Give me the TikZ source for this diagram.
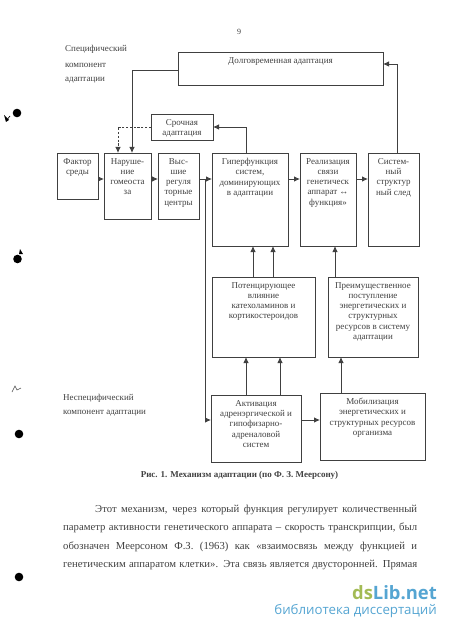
\documentclass[tikz,border=0pt]{standalone}
\usepackage{fontspec}
\setmainfont{Liberation Serif}
\newfontfamily\wmfont{Open Sans}
\usetikzlibrary{arrows.meta,calc}
\definecolor{ink}{gray}{0.25}
\definecolor{wmgreen}{HTML}{A3BB55}
\definecolor{wmblue}{HTML}{55A5D2}
\tikzset{
  box/.style={draw=ink,line width=0.8pt,inner sep=0pt,outer sep=0pt,text=ink,rectangle},
  arr/.style={draw=ink,line width=0.8pt,-{Latex[length=6pt,width=5.5pt]}},
  dasharr/.style={arr,dashed,dash pattern=on 2.2pt off 1.6pt},
  note/.style={text=ink,font=\fontsize{9}{10}\selectfont,anchor=west,inner sep=0pt},
  spot/.style={circle,fill=black,minimum size=8.6pt,inner sep=0pt},
}
% name, x1, y1, x2, y2, text
\newcommand{\bx}[6]{%
  \pgfmathsetmacro{\bw}{#4-#2}\pgfmathsetmacro{\bh}{#5-#3}%
  \node[box,minimum width=\bw pt,minimum height=\bh pt] (#1) at ({(#2+#4)/2},{(#3+#5)/2})
  {\parbox[c][\bh pt][t]{\bw pt}{\centering\fontsize{9}{10.3}\selectfont\vspace*{5.2pt}#6\par}};}
\begin{document}
\begin{tikzpicture}[x=1pt,y=-1pt]
\useasboundingbox (0,0) rectangle (450,631);
\node[text=ink,font=\fontsize{8}{8}\selectfont,inner sep=0pt] (pg) at (239,32) {9};
% side labels
\node[note] (l1) at (65,49) {Специфический};
\node[note] (l2) at (65,65) {компонент};
\node[note] (l3) at (65,80) {адаптации};
\node[note] (l4) at (63,398) {Неспецифический};
\node[note] (l5) at (63,413) {компонент адаптации};
% boxes
\bx{long}{178}{52}{383}{85}{Долговременная адаптация}
\bx{sr}{151}{114}{213}{140}{Срочная\\адаптация}
\bx{fac}{57}{153}{98}{199}{Фактор\\среды}
\bx{nar}{104}{153}{151}{219}{Наруше-\\ние\\гомеоста\\за}
\bx{vys}{158}{153}{199}{219}{Выс-\\шие\\регуля\\торные\\центры}
\bx{hyp}{212}{153}{288}{246}{Гиперфункция\\систем,\\доминирующих\\в адаптации}
\bx{rea}{300}{153}{356}{246}{Реализация\\связи\\генетическ\\аппарат ↔\\функция»}
\bx{sys}{368}{153}{419}{246}{Систем-\\ный\\структур\\ный след}
\bx{pot}{212}{277}{315}{357}{Потенцирующее\\влияние\\катехоламинов и\\кортикостероидов}
\bx{pre}{328}{277}{418}{357}{Преимущественное\\поступление\\энергетических и\\структурных\\ресурсов в систему\\адаптации}
\bx{act}{211}{395}{301}{462}{Активация\\адренэргической и\\гипофизарно-\\адреналовой\\систем}
\bx{mob}{320}{393}{425}{460}{Мобилизация\\энергетических и\\структурных ресурсов\\организма}
% helper coordinates
\coordinate (row) at (0,179);
\coordinate (row2) at (0,420);
\coordinate (bus) at (205,179);
% connectors
\draw[arr] (fac.east |- row) -- (nar.west |- row);
\draw[arr] (nar.east |- row) -- (vys.west |- row);
\draw[arr] (vys.east |- row) -- (hyp.west |- row);
\draw[arr] (hyp.east |- row) -- (rea.west |- row);
\draw[arr] (rea.east |- row) -- (sys.west |- row);
\draw[arr] (bus) |- (act.west |- row2);
\draw[arr] (act.east |- row2) -- (mob.west |- row2);
\draw[arr] ([xshift=3.5pt]sys.north) |- ([yshift=4.5pt]long.east);
\draw[arr] ([yshift=-1.5pt]long.west) -| ([xshift=4.5pt]nar.north);
\draw[dasharr] (sr.west) -| ([xshift=-9.5pt]nar.north);
\draw[arr] ([xshift=-4pt]hyp.north) |- (sr.east);
\draw[arr] ([xshift=-10.5pt]pot.north) -- ([xshift=3pt]hyp.south);
\draw[arr] ([xshift=9.5pt]pot.north) -- ([xshift=23pt]hyp.south);
\draw[arr] ([xshift=-38pt]pre.north) -- ([xshift=7pt]rea.south);
\draw[arr] ([xshift=-10pt]act.north) -- ([xshift=-17.5pt]pot.south);
\draw[arr] ([xshift=24pt]act.north) -- ([xshift=16.5pt]pot.south);
\draw[arr] ([xshift=-31.5pt]mob.north) -- ([xshift=-32pt]pre.south);
% caption and body
\node[text=ink,font=\fontsize{9}{10}\selectfont\bfseries,inner sep=0pt] (cap) at (239.5,475) {Рис. 1. Механизм адаптации (по Ф. З. Меерсону)};
\node[text=ink,anchor=north west,inner sep=0pt] (body) at (63,505) {\parbox[t]{354pt}{\fontsize{10.7}{18.2}\selectfont\parindent=32pt\parfillskip=0pt
Этот механизм, через который функция регулирует количественный\linebreak
параметр активности генетического аппарата – скорость транскрипции, был\linebreak
обозначен Меерсоном Ф.З. (1963) как «взаимосвязь между функцией и\linebreak
генетическим аппаратом клетки». Эта связь является двусторонней. Прямая\par}};
% margin marks
\node[spot] (d1) at (17,113) {};
\node[spot] (d2) at (17.5,259) {};
\node[spot] (d3) at (19,434) {};
\node[spot] (d4) at (19,577) {};
\fill[black] (4,115) -- (9,120) -- (6,122) -- cycle;
\draw[black,line width=0.7pt] (6,121) -- (10,116);
\fill[black] (20,249) -- (23,254) -- (19,254) -- cycle;
\draw[black!70,line width=0.6pt] (12,392) -- (15,386) -- (17,390) -- (21,388);
% watermark
\node[inner sep=0pt,anchor=east,font=\wmfont\bfseries\fontsize{18.4}{20}\selectfont] (wm) at (437,593) {\textcolor{wmgreen}{ds}\textcolor{wmblue}{Lib.net}};
\node[inner sep=0pt,anchor=east,text=wmblue,font=\wmfont\fontsize{13.3}{14}\selectfont] (wm2) at (437,611) {библиотека диссертаций};
\end{tikzpicture}
\end{document}
